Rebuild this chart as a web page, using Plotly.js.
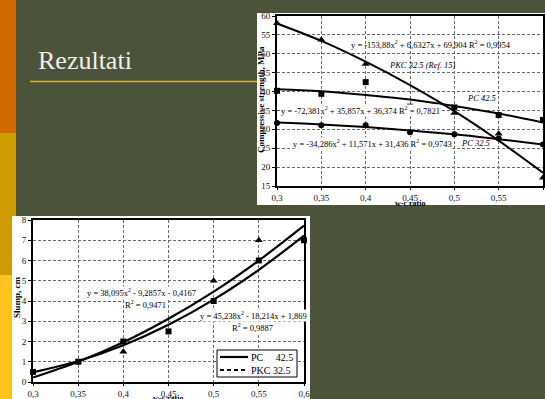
<!DOCTYPE html>
<html><head><meta charset="utf-8">
<script src="https://cdn.plot.ly/plotly-3.0.1.min.js"></script>
<style>html,body{margin:0;padding:0;background:#4B533A;overflow:hidden;}</style>
</head><body><div id="chart" style="width:545px;height:399px;"></div>
<script>
// ---- data: compressive strength vs w-c ratio ----
const wcRatio = [0.3, 0.35, 0.4, 0.45, 0.5, 0.55, 0.6];
const wcTickText = ["0,3", "0,35", "0,4", "0,45", "0,5", "0,55", "0,6"];
const strengthTicks = [15, 20, 25, 30, 35, 40, 45, 50, 55, 60];
const pkc325Ref15Points = [58.1, 53.7, 47.3, null, 34.3, 28.8, 17.2];
const pc425Points = [40.2, 39.4, 42.5, 36.0, 35.8, 33.8, 32.5];
const pc325Points = [31.7, 31.1, 31.1, 29.2, 28.7, 27.6, 26.0];
const pkc325Ref15Trend = [58.0, 53.4, 47.9, 41.7, 34.8, 27.0, 18.5];
const pc425Trend = [40.6, 40.1, 39.1, 37.9, 36.2, 34.2, 31.8];
const pc325Trend = [31.8, 31.3, 30.6, 29.7, 28.7, 27.4, 26.0];
// ---- data: slump vs w-c ratio ----
const slumpTicks = [0, 1, 2, 3, 4, 5, 6, 7, 8];
const slumpPC425Points = [0.5, 1, 2, 2.5, 4, 6, 7];
const slumpPKC325Points = [null, 1, 1.5, null, 5, 7, null];
const slumpPC425Trend = [0.48, 1.04, 1.82, 2.83, 4.07, 5.54, 7.23];
const slumpPKC325Trend = [0.22, 1.0, 1.96, 3.12, 4.46, 6.0, 7.72];

const W = 545, H = 399;
const px = v => v / W, py = v => 1 - v / H;
const SERIF = 'Liberation Serif, Times New Roman, serif';

const traces = [
  {x: wcRatio, y: pkc325Ref15Trend, mode: 'lines', line: {color: '#000', width: 2, shape: 'spline'}, xaxis: 'x', yaxis: 'y'},
  {x: wcRatio, y: pc425Trend, mode: 'lines', line: {color: '#000', width: 2, shape: 'spline'}, xaxis: 'x', yaxis: 'y'},
  {x: wcRatio, y: pc325Trend, mode: 'lines', line: {color: '#000', width: 2, shape: 'spline'}, xaxis: 'x', yaxis: 'y'},
  {x: wcRatio, y: pkc325Ref15Points, mode: 'markers', marker: {symbol: 'triangle-up', size: 7, color: '#000'}, xaxis: 'x', yaxis: 'y', cliponaxis: false},
  {x: wcRatio, y: pc425Points, mode: 'markers', marker: {symbol: 'square', size: 6, color: '#000'}, xaxis: 'x', yaxis: 'y', cliponaxis: false},
  {x: wcRatio, y: pc325Points, mode: 'markers', marker: {symbol: 'circle', size: 6, color: '#000'}, xaxis: 'x', yaxis: 'y', cliponaxis: false},
  {x: wcRatio, y: slumpPC425Trend, mode: 'lines', line: {color: '#000', width: 2.2, shape: 'spline'}, xaxis: 'x2', yaxis: 'y2'},
  {x: wcRatio, y: slumpPKC325Trend, mode: 'lines', line: {color: '#000', width: 2.2, shape: 'spline'}, xaxis: 'x2', yaxis: 'y2'},
  {x: wcRatio, y: slumpPC425Points, mode: 'markers', marker: {symbol: 'square', size: 6, color: '#000'}, xaxis: 'x2', yaxis: 'y2', cliponaxis: false},
  {x: wcRatio, y: slumpPKC325Points, mode: 'markers', marker: {symbol: 'triangle-up', size: 7, color: '#000'}, xaxis: 'x2', yaxis: 'y2', cliponaxis: false}
];

const axisCommon = {
  showline: true, linecolor: '#000', linewidth: 2, mirror: true,
  showgrid: true, gridcolor: '#6a6a6a', gridwidth: 1, griddash: '3px,2px',
  ticks: 'outside', ticklen: 3, tickcolor: '#000', tickwidth: 1,
  zeroline: false, tickfont: {family: SERIF, size: 9, color: '#111'}
};

function ann(text, x, y, opts) {
  return Object.assign({text: text, xref: 'paper', yref: 'paper', x: px(x), y: py(y),
    xanchor: 'center', yanchor: 'middle', showarrow: false,
    font: {family: SERIF, size: 8.5, color: '#000'}}, opts || {});
}

const layout = {
  width: W, height: H, margin: {l: 0, r: 0, t: 0, b: 0},
  paper_bgcolor: '#4B533A', plot_bgcolor: 'rgba(0,0,0,0)', showlegend: false,
  font: {family: SERIF, size: 9, color: '#111'},
  xaxis: Object.assign({}, axisCommon, {domain: [px(277), px(543)], range: [0.3, 0.6], tickvals: wcRatio, ticktext: wcTickText, anchor: 'y', ticklen: 2}),
  yaxis: Object.assign({}, axisCommon, {domain: [py(186), py(16)], range: [15, 60], tickvals: strengthTicks, anchor: 'x'}),
  xaxis2: Object.assign({}, axisCommon, {domain: [px(33), px(304)], range: [0.3, 0.6], tickvals: wcRatio, ticktext: wcTickText, anchor: 'y2', ticklen: 2}),
  yaxis2: Object.assign({}, axisCommon, {domain: [py(382), py(220)], range: [0, 8], tickvals: slumpTicks, anchor: 'x2'}),
  shapes: [
    {type: 'rect', xref: 'paper', yref: 'paper', x0: 0, x1: px(16), y0: py(133), y1: py(0), fillcolor: '#D06A00', line: {width: 0}, layer: 'below'},
    {type: 'rect', xref: 'paper', yref: 'paper', x0: 0, x1: px(16), y0: py(275), y1: py(133), fillcolor: '#CE9C00', line: {width: 0}, layer: 'below'},
    {type: 'rect', xref: 'paper', yref: 'paper', x0: 0, x1: px(16), y0: py(399), y1: py(275), fillcolor: '#FFC21F', line: {width: 0}, layer: 'below'},
    {type: 'line', xref: 'paper', yref: 'paper', x0: px(30), x1: px(257), y0: py(81.5), y1: py(81.5), line: {color: '#F5B000', width: 1.5}, layer: 'below'},
    {type: 'rect', xref: 'paper', yref: 'paper', x0: px(257), x1: 1, y0: py(205), y1: py(13), fillcolor: '#FFFFFF', line: {width: 0}, layer: 'below'},
    {type: 'rect', xref: 'paper', yref: 'paper', x0: px(12), x1: px(310), y0: py(399), y1: py(216), fillcolor: '#FFFFFF', line: {width: 0}, layer: 'below'},
    {type: 'rect', xref: 'paper', yref: 'paper', x0: px(217), x1: px(297), y0: py(377), y1: py(350), fillcolor: '#FFFFFF', line: {color: '#000', width: 1}},
    {type: 'line', xref: 'paper', yref: 'paper', x0: px(220), x1: px(248), y0: py(357), y1: py(357), line: {color: '#000', width: 2.2}},
    {type: 'line', xref: 'paper', yref: 'paper', x0: px(220), x1: px(248), y0: py(370), y1: py(370), line: {color: '#000', width: 2, dash: '4px,3px'}}
  ],
  annotations: [
    ann('Rezultati', 36, 61, {xanchor: 'left', font: {family: SERIF, size: 26, color: '#F2F0EA'}}),
    ann('y = -153,88x<sup>2</sup> + 6,6327x + 69,904 R<sup>2</sup> = 0,9954', 431, 44),
    ann('<i>PKC 32.5 (Ref. 15)</i>', 422, 65),
    ann('<i>PC 42.5</i>', 481, 98),
    ann('y = -72,381x<sup>2</sup> + 35,857x + 36,374 R<sup>2</sup> = 0,7821', 360, 110, {bgcolor: '#FFFFFF', borderpad: 0}),
    ann('y = -34,286x<sup>2</sup> + 11,571x + 31,436 R<sup>2</sup> = 0,9743', 372, 143, {bgcolor: '#FFFFFF', borderpad: 0}),
    ann('<i>PC 32.5</i>', 475, 143),
    ann('<b>Compressive strength, MPa</b>', 261, 100, {textangle: -90, font: {family: SERIF, size: 9, color: '#000'}}),
    ann('<b>w-c ratio</b>', 410, 203, {font: {family: SERIF, size: 8, color: '#000'}}),
    ann('y = 38,095x<sup>2</sup> - 9,2857x - 0,4167', 141, 292, {bgcolor: '#FFFFFF', borderpad: 0}),
    ann('R<sup>2</sup> = 0,9471', 145, 304, {bgcolor: '#FFFFFF', borderpad: 0}),
    ann('y = 45,238x<sup>2</sup> - 18,214x + 1,869', 253, 315, {bgcolor: '#FFFFFF', borderpad: 0}),
    ann('R<sup>2</sup> = 0,9887', 252, 327, {bgcolor: '#FFFFFF', borderpad: 0}),
    ann('PC\u00a0\u00a0\u00a0\u00a0 42.5', 249, 357, {xanchor: 'left', font: {family: SERIF, size: 10, color: '#000'}}),
    ann('PKC 32.5', 249, 370, {xanchor: 'left', font: {family: SERIF, size: 10, color: '#000'}}),
    ann('<b>Slump, cm</b>', 17, 297, {textangle: -90, font: {family: SERIF, size: 9, color: '#000'}}),
    ann('<b>w-c ratio</b>', 168, 398, {font: {family: SERIF, size: 8, color: '#000'}})
  ]
};

Plotly.newPlot('chart', traces, layout, {staticPlot: true, displayModeBar: false});
</script>
</body></html>
